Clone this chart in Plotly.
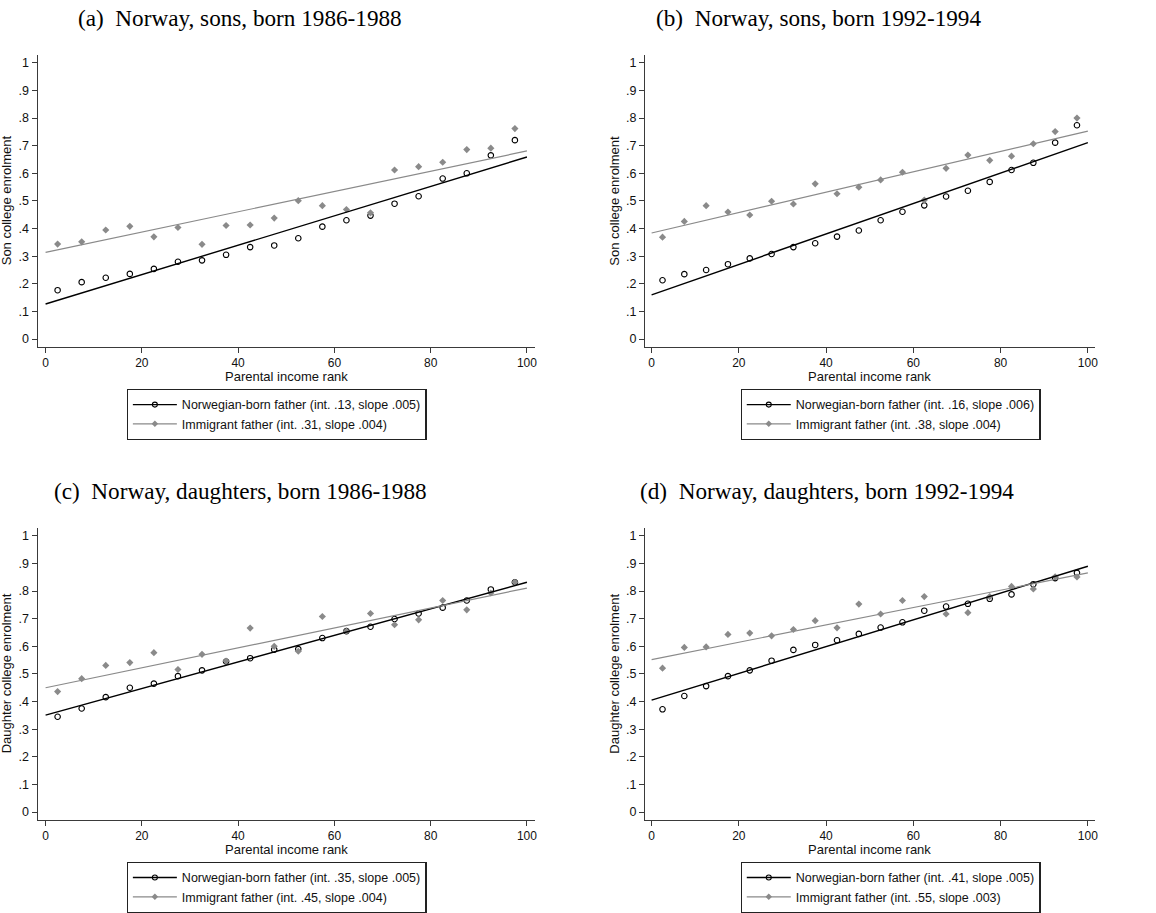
import plotly.graph_objects as go
import numpy as np

# ---------------- data ----------------
bins = [2.5, 7.5, 12.5, 17.5, 22.5, 27.5, 32.5, 37.5, 42.5, 47.5,
        52.5, 57.5, 62.5, 67.5, 72.5, 77.5, 82.5, 87.5, 92.5, 97.5]

a_norw = [0.177, 0.206, 0.222, 0.236, 0.254, 0.280, 0.285, 0.305, 0.333, 0.339,
          0.365, 0.407, 0.430, 0.447, 0.490, 0.517, 0.581, 0.600, 0.665, 0.720]
a_immi = [0.344, 0.352, 0.395, 0.408, 0.370, 0.404, 0.343, 0.411, 0.413, 0.438,
          0.501, 0.483, 0.469, 0.457, 0.612, 0.624, 0.640, 0.686, 0.691, 0.762]

b_norw = [0.213, 0.235, 0.250, 0.271, 0.292, 0.308, 0.333, 0.347, 0.371, 0.393,
          0.430, 0.461, 0.484, 0.516, 0.537, 0.569, 0.612, 0.638, 0.711, 0.774]
b_immi = [0.369, 0.426, 0.483, 0.460, 0.449, 0.499, 0.489, 0.562, 0.526, 0.550,
          0.576, 0.604, 0.503, 0.618, 0.666, 0.647, 0.662, 0.707, 0.751, 0.800]

c_norw = [0.345, 0.375, 0.416, 0.450, 0.465, 0.492, 0.513, 0.545, 0.557, 0.588,
          0.590, 0.630, 0.655, 0.671, 0.699, 0.719, 0.740, 0.766, 0.806, 0.832]
c_immi = [0.436, 0.483, 0.531, 0.541, 0.577, 0.516, 0.571, 0.547, 0.666, 0.600,
          0.582, 0.708, 0.655, 0.719, 0.678, 0.696, 0.766, 0.732, 0.793, 0.832]

d_norw = [0.372, 0.420, 0.456, 0.492, 0.513, 0.548, 0.587, 0.605, 0.622, 0.645,
          0.668, 0.687, 0.729, 0.744, 0.754, 0.772, 0.788, 0.825, 0.847, 0.866]
d_immi = [0.521, 0.596, 0.598, 0.643, 0.648, 0.638, 0.661, 0.693, 0.667, 0.753,
          0.717, 0.766, 0.780, 0.717, 0.722, 0.780, 0.817, 0.808, 0.852, 0.851]

# fitted lines (intercept, slope) as drawn
fit_norw_int = [0.127, 0.160, 0.351, 0.405]
fit_norw_slope = [0.00532, 0.00551, 0.00481, 0.00485]
fit_immi_int = [0.314, 0.384, 0.450, 0.552]
fit_immi_slope = [0.00367, 0.00369, 0.00361, 0.00314]

panel_titles = ["(a)  Norway, sons, born 1986-1988",
                "(b)  Norway, sons, born 1992-1994",
                "(c)  Norway, daughters, born 1986-1988",
                "(d)  Norway, daughters, born 1992-1994"]
ytitles = ["Son college enrolment", "Son college enrolment",
           "Daughter college enrolment", "Daughter college enrolment"]
legend_norw = ["Norwegian-born father (int. .13, slope .005)",
               "Norwegian-born father (int. .16, slope .006)",
               "Norwegian-born father (int. .35, slope .005)",
               "Norwegian-born father (int. .41, slope .005)"]
legend_immi = ["Immigrant father (int. .31, slope .004)",
               "Immigrant father (int. .38, slope .004)",
               "Immigrant father (int. .45, slope .004)",
               "Immigrant father (int. .55, slope .003)"]
xtitle = "Parental income rank"

x_ticks = [0, 20, 40, 60, 80, 100]
y_ticks = [0, 0.1, 0.2, 0.3, 0.4, 0.5, 0.6, 0.7, 0.8, 0.9, 1.0]
y_ticktext = ["0", ".1", ".2", ".3", ".4", ".5", ".6", ".7", ".8", ".9", "1"]

norw_data = [a_norw, b_norw, c_norw, d_norw]
immi_data = [a_immi, b_immi, c_immi, d_immi]

# ---------------- layout geometry (page pixels) ----------------
W, H = 1156, 913


def px(p):
    return p / W


def py(p):
    return 1 - p / H


px_cols = [dict(x0=45.7, x100=528.3, left=37.7, right=536.0),
           dict(x0=653.3, x100=1090.7, left=646.7, right=1097.7)]
px_rows = [dict(y0=341.7, y1=63.3, top=55.0, bottom=349.3),
           dict(y0=818.3, y1=540.0, top=531.7, bottom=825.9)]
title_cx = [241, 821, 241, 829]
legend_left = [127, 742.5, 127, 742.5]

AXIS_COL = "#3a3a3a"
GRAY = "#8a8a8a"
SANS = "Liberation Sans, Arial, sans-serif"
SERIF = "Liberation Serif, Times New Roman, serif"

fig = go.Figure()
annotations = []
layout_axes = {}

for i in range(4):
    col = px_cols[i % 2]
    row = px_rows[i // 2]
    n = i + 1
    xa = "x" if n == 1 else f"x{n}"
    ya = "y" if n == 1 else f"y{n}"
    xkey = "xaxis" if n == 1 else f"xaxis{n}"
    ykey = "yaxis" if n == 1 else f"yaxis{n}"
    lg = "legend" if n == 1 else f"legend{n}"

    sx = (col["x100"] - col["x0"]) / 100.0
    xr = [(col["left"] - col["x0"]) / sx, 100 + (col["right"] - col["x100"]) / sx]
    sy = (row["y0"] - row["y1"])
    yr = [-(row["bottom"] - row["y0"]) / sy, 1 + (row["y1"] - row["top"]) / sy]

    layout_axes[xkey] = dict(
        domain=[px(col["left"]), px(col["right"])], range=xr, anchor=ya,
        showgrid=False, zeroline=False, showline=True, linecolor=AXIS_COL, linewidth=1.2,
        ticks="outside", ticklen=5, tickwidth=1.1, tickcolor=AXIS_COL,
        tickvals=x_ticks, ticktext=[str(t) for t in x_ticks],
        tickfont=dict(family=SANS, size=12, color="#111"), fixedrange=True)
    layout_axes[ykey] = dict(
        domain=[py(row["bottom"]), py(row["top"])], range=yr, anchor=xa,
        showgrid=False, zeroline=False, showline=True, linecolor=AXIS_COL, linewidth=1.2,
        ticks="outside", ticklen=5, tickwidth=1.1, tickcolor=AXIS_COL,
        tickvals=y_ticks, ticktext=y_ticktext,
        tickfont=dict(family=SANS, size=12.5, color="#111"), fixedrange=True)

    # scatter points
    fig.add_trace(go.Scatter(x=bins, y=norw_data[i], xaxis=xa, yaxis=ya, mode="markers",
                             marker=dict(symbol="circle-open", size=5.5, color="black",
                                         line=dict(width=1.1, color="black")),
                             showlegend=False, hoverinfo="skip"))
    fig.add_trace(go.Scatter(x=bins, y=immi_data[i], xaxis=xa, yaxis=ya, mode="markers",
                             marker=dict(symbol="diamond", size=5.5, color=GRAY,
                                         line=dict(width=0)),
                             showlegend=False, hoverinfo="skip"))
    # fitted lines
    lx = np.array([x_ticks[0], x_ticks[-1]], dtype=float)
    fig.add_trace(go.Scatter(x=lx, y=fit_norw_int[i] + fit_norw_slope[i] * lx,
                             xaxis=xa, yaxis=ya, mode="lines",
                             line=dict(color="black", width=1.4),
                             showlegend=False, hoverinfo="skip"))
    fig.add_trace(go.Scatter(x=lx, y=fit_immi_int[i] + fit_immi_slope[i] * lx,
                             xaxis=xa, yaxis=ya, mode="lines",
                             line=dict(color=GRAY, width=1.2),
                             showlegend=False, hoverinfo="skip"))
    # legend entries
    fig.add_trace(go.Scatter(x=[None], y=[None], xaxis=xa, yaxis=ya, mode="lines+markers",
                             name=legend_norw[i], legend=lg,
                             line=dict(color="black", width=1.4),
                             marker=dict(symbol="circle-open", size=5, color="black",
                                         line=dict(width=1.1, color="black"))))
    fig.add_trace(go.Scatter(x=[None], y=[None], xaxis=xa, yaxis=ya, mode="lines+markers",
                             name=legend_immi[i], legend=lg,
                             line=dict(color=GRAY, width=1.2),
                             marker=dict(symbol="diamond", size=5, color=GRAY)))

    leg_top = row["bottom"] + 42.5
    layout_axes[lg] = dict(
        x=px(legend_left[i]), y=py(leg_top), xanchor="left", yanchor="top",
        bordercolor="#222", borderwidth=1.2, bgcolor="white",
        font=dict(family=SANS, size=12.5, color="#111"),
        itemwidth=44, tracegroupgap=0, orientation="v", itemclick=False,
        itemdoubleclick=False)

    # panel title
    annotations.append(dict(text=panel_titles[i], x=px(title_cx[i]),
                            y=py(row["top"] - 37), xref="paper", yref="paper",
                            xanchor="center", yanchor="middle", showarrow=False,
                            font=dict(family=SERIF, size=23.2, color="black")))
    # y-axis title
    annotations.append(dict(text=ytitles[i], x=px(col["left"] - 31),
                            y=py((row["top"] + row["bottom"]) / 2),
                            xref="paper", yref="paper", textangle=-90,
                            xanchor="center", yanchor="middle", showarrow=False,
                            font=dict(family=SANS, size=13, color="#111")))
    # x-axis title
    annotations.append(dict(text=xtitle, x=50, xref=xa,
                            y=py(row["bottom"] + 30), yref="paper",
                            xanchor="center", yanchor="middle", showarrow=False,
                            font=dict(family=SANS, size=13, color="#111")))

fig.update_layout(width=W, height=H, margin=dict(l=0, r=0, t=0, b=0),
                  paper_bgcolor="white", plot_bgcolor="white",
                  annotations=annotations, **layout_axes)

fig.write_html("out.html", config={"displayModeBar": False},
               post_script="document.body.style.margin='0';document.body.style.padding='0';")
